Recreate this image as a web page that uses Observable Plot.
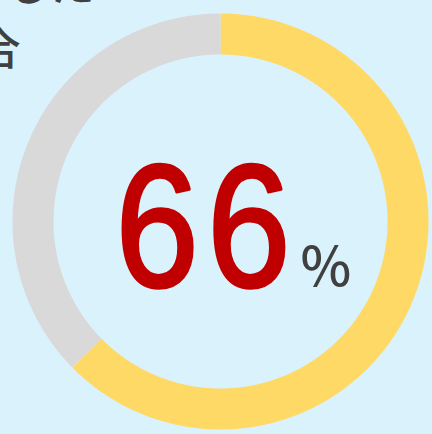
<!DOCTYPE html>
<html>
<head>
<meta charset="utf-8">
<script src="https://cdn.jsdelivr.net/npm/d3@7"></script>
<script src="https://cdn.jsdelivr.net/npm/@observablehq/plot@0.6"></script>
<style>
  html, body { margin: 0; padding: 0; background: #daf2fc; overflow: hidden; }
  #chart { width: 432px; height: 434px; overflow: hidden; }
</style>
</head>
<body>
<div id="chart"></div>
<script>
// ---- data ----
const categories = ["該当", "その他"];
const ringShares = [62.6, 37.4];          // arc shares as drawn in the ring
const ringColors = ["#ffd966", "#d9d9d9"];
const labelValue = "66";
const labelUnit = "%";
const titleLines = ["「満足」と回答した", "人の割合"];

// ---- build arc paths (unit radius) from the shares ----
const total = d3.sum(ringShares);
const ends = d3.cumsum(ringShares);
const pts = [];
categories.forEach((c, i) => {
  const a0 = ((ends[i] - ringShares[i]) / total) * 2 * Math.PI;
  const a1 = (ends[i] / total) * 2 * Math.PI;
  const n = Math.max(2, Math.ceil((a1 - a0) / (Math.PI / 720)));
  for (let k = 0; k <= n; k++) {
    const a = a0 + (a1 - a0) * k / n;
    pts.push({cat: c, x: Math.sin(a), y: Math.cos(a)});
  }
});

const W = 432, H = 434, R = 187.5, cx = 220, cy = 221;
const numScaleX = 0.86;

const chart = Plot.plot({
  width: W,
  height: H,
  margin: 0,
  style: {background: "#daf2fc", overflow: "hidden"},
  x: {domain: [-cx / R, (W - cx) / R], axis: null},
  y: {domain: [-(H - cy) / R, cy / R], axis: null},
  color: {domain: categories, range: ringColors},
  marks: [
    Plot.line(pts, {
      x: "x", y: "y", z: "cat", stroke: "cat",
      strokeWidth: 41, strokeLinecap: "butt", strokeLinejoin: "round"
    }),
    Plot.text([labelValue], {
      x: () => 0, y: () => 0, text: d => d,
      textAnchor: "start", lineAnchor: "middle", dx: -105, dy: 9,
      fontSize: 174, fill: "#c00000",
      stroke: "#c00000", strokeWidth: 3.5,
      fontFamily: "Liberation Sans, Arial, sans-serif"
    }),
    Plot.text([labelUnit], {
      x: () => 0, y: () => 0, text: d => d,
      textAnchor: "start", lineAnchor: "middle", dx: 80, dy: 47,
      fontSize: 54, fontWeight: 500, fill: "#404040",
      fontFamily: "Noto Sans CJK JP, sans-serif"
    }),
    Plot.text([titleLines[0]], {
      frameAnchor: "top-left", text: d => d,
      textAnchor: "end", lineAnchor: "middle", dx: 94, dy: -14,
      fontSize: 44, fontWeight: 500, fill: "#404040",
      fontFamily: "Noto Sans CJK JP, sans-serif"
    }),
    Plot.text([titleLines[1]], {
      frameAnchor: "top-left", text: d => d,
      textAnchor: "end", lineAnchor: "middle", dx: 20, dy: 50,
      fontSize: 44, fontWeight: 500, fill: "#404040",
      fontFamily: "Noto Sans CJK JP, sans-serif"
    })
  ]
});
// narrow the big figure horizontally, as in the reference typeface
d3.select(chart).selectAll("text")
  .filter(function () { return this.textContent === labelValue; })
  .each(function () {
    const t = d3.select(this);
    t.style("letter-spacing", "10px");
    const tx = t.attr("x");
    const prev = t.attr("transform");
    if (tx != null) {
      const x = +tx;
      t.attr("transform", `${prev ? prev + " " : ""}translate(${x},0) scale(${numScaleX},1) translate(${-x},0)`);
    } else {
      t.attr("transform", `${prev ? prev + " " : ""}scale(${numScaleX},1)`);
    }
  });
document.getElementById("chart").appendChild(chart);
</script>
</body>
</html>
